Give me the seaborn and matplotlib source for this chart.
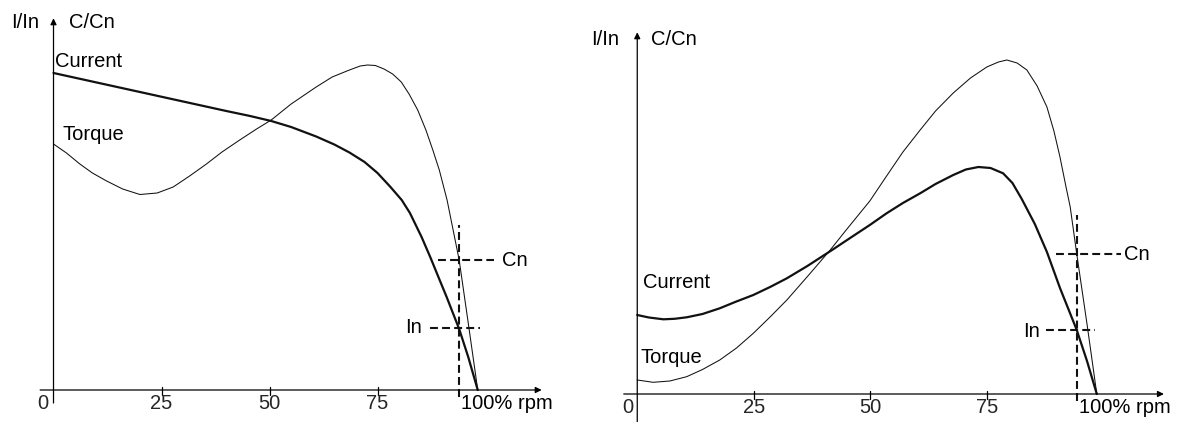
import matplotlib
matplotlib.use("Agg")
import matplotlib.pyplot as plt
import seaborn as sns

# speed in % of synchronous speed, curve values in chart units

# left panel: standard cage motor
LEFT_I_SPEED = [0, 10, 20, 30, 40, 45.5, 50.4, 55, 60.8, 65, 68.5, 72, 75, 78,
                80.6, 82.5, 85.2, 87.2, 89, 91, 93.9, 96, 98.2]
LEFT_I = [3.17, 3.075, 2.98, 2.885, 2.79, 2.74, 2.69, 2.63, 2.535, 2.455, 2.375,
          2.28, 2.17, 2.03, 1.90, 1.77, 1.53, 1.33, 1.14, 0.93, 0.61, 0.33, 0.0]
LEFT_T_SPEED = [0, 3, 6.1, 9, 12.3, 16, 20, 24, 27.7, 31.5, 35.4, 39, 43.1, 47,
                50.4, 55, 60.8, 64.5, 68.5, 71, 72.7, 74.5, 76.5, 78.5, 80.5, 82.3,
                84.3, 86.2, 87.8, 89.3, 91.1, 92.5, 93.9, 96, 98.2]
LEFT_T = [2.46, 2.37, 2.26, 2.17, 2.09, 2.01, 1.955, 1.97, 2.03, 2.14, 2.26, 2.38,
          2.50, 2.61, 2.70, 2.86, 3.03, 3.13, 3.20, 3.24, 3.25, 3.245, 3.21, 3.16,
          3.08, 2.96, 2.80, 2.60, 2.40, 2.20, 1.90, 1.60, 1.30, 0.67, 0.0]

# right panel: high resistance rotor
RIGHT_I_SPEED = [0, 2.5, 5.6, 8, 10.6, 14, 17.7, 21, 24.9, 28.5, 32.1, 36.5, 41.8,
                 46, 49.9, 53.5, 57, 60.7, 64, 67.8, 70.5, 73.2, 75.8, 78.5, 80.5,
                 82.5, 85.3, 87.9, 90.7, 92.5, 94.3, 96.5, 98.6]
RIGHT_I = [0.79, 0.765, 0.747, 0.752, 0.767, 0.80, 0.857, 0.92, 0.99, 1.07, 1.157,
           1.28, 1.44, 1.57, 1.69, 1.807, 1.91, 2.007, 2.10, 2.19, 2.245, 2.27, 2.26,
           2.207, 2.11, 1.95, 1.70, 1.42, 1.06, 0.85, 0.64, 0.33, 0.0]
RIGHT_T_SPEED = [0, 3.4, 7, 10.6, 14, 17.7, 21.3, 24.9, 28.5, 32.1, 36.8, 41.4, 45,
                 49.9, 53.5, 57, 60.7, 64, 67.8, 71.5, 75, 77.5, 79.3, 81.5, 83.6,
                 85.8, 87.9, 89.4, 90.7, 92, 92.9, 94.3, 96.5, 98.6]
RIGHT_T = [0.14, 0.117, 0.13, 0.173, 0.245, 0.34, 0.46, 0.607, 0.77, 0.94, 1.19,
           1.44, 1.65, 1.93, 2.18, 2.42, 2.64, 2.83, 3.01, 3.16, 3.27, 3.32, 3.34,
           3.31, 3.24, 3.08, 2.87, 2.63, 2.37, 2.07, 1.87, 1.40, 0.70, 0.0]

TICKS = [25, 50, 75]
TICK_LABELS = ["25", "50", "75"]

# nominal point: speed, In level, Cn level
LEFT_NOMINAL = (93.9, 0.617, 1.30)
RIGHT_NOMINAL = (94.3, 0.64, 1.40)

FS = 14.5
DASH = (0, (3.8, 2.0))


def draw_panel(ax, i_speed, i_vals, t_speed, t_vals, nominal, lay):
    ax.set_xlim(-6, 115)
    ax.set_ylim(*lay["ylim"])
    ax.axis("off")

    # axes with arrow heads
    arrow = dict(arrowstyle="-|>", lw=0.9, color="black", mutation_scale=9,
                 shrinkA=0, shrinkB=0)
    ax.annotate("", xy=(113, 0), xytext=(lay["x_start"], 0), arrowprops=arrow)
    ax.annotate("", xy=(0, lay["y_top"]), xytext=(0, lay["y_bottom"]), arrowprops=arrow)
    for t in TICKS:
        ax.plot([t, t], [0.035, -0.045], color="black", lw=0.9)

    sns.lineplot(x=i_speed, y=i_vals, ax=ax, color="#111111", lw=1.6)
    sns.lineplot(x=t_speed, y=t_vals, ax=ax, color="#111111", lw=0.75)

    n_speed, i_n, c_n = nominal
    ax.plot([n_speed, n_speed], [-0.07, lay["v_top"]], color="#111111", lw=1.5, ls=DASH)
    ax.plot(lay["cn_span"], [c_n, c_n], color="#111111", lw=1.5, ls=DASH)
    ax.plot(lay["in_span"], [i_n, i_n], color="#111111", lw=1.5, ls=DASH)

    txt = dict(fontsize=FS, va="baseline", ha="left", color="black")
    for label, key in [("I/In", "iin"), ("C/Cn", "ccn"), ("Current", "cur"),
                       ("Torque", "tor"), ("Cn", "cn"), ("In", "in"),
                       ("100% rpm", "rpm")]:
        ax.text(*lay[key], label, clip_on=False, **txt)
    ax.text(lay["zero_x"], lay["tick_y"], "0", fontsize=FS, va="baseline", ha="center")
    for t, lab in zip(TICKS, TICK_LABELS):
        ax.text(t, lay["tick_y"], lab, fontsize=FS, va="baseline", ha="center")


sns.set_theme(style="white")
plt.rcParams["font.family"] = ["Liberation Sans", "DejaVu Sans"]

fig = plt.figure(figsize=(11.84, 4.22), dpi=100)
ax_left = fig.add_axes([0.0233, 0.0, 0.4415, 1.0])
ax_right = fig.add_axes([0.5146, 0.0, 0.4763, 1.0])

left_layout = {
    "ylim": (-0.32, 3.9), "x_start": -3.1, "y_top": 3.717, "y_bottom": -0.13,
    "v_top": 1.65, "cn_span": [89.1, 102.0], "in_span": [87.1, 98.7],
    "iin": (-9.9, 3.617), "ccn": (3.6, 3.617), "cur": (0.46, 3.23),
    "tor": (2.1, 2.50), "cn": (103.7, 1.24), "in": (81.4, 0.57),
    "rpm": (94.3, -0.19), "zero_x": -2.5, "tick_y": -0.19,
}
right_layout = {
    "ylim": (-0.28, 3.94), "x_start": -2.9, "y_top": 3.617, "y_bottom": -0.28,
    "v_top": 1.79, "cn_span": [89.8, 103.9], "in_span": [87.7, 98.3],
    "iin": (-9.8, 3.49), "ccn": (2.94, 3.49), "cur": (1.15, 1.057),
    "tor": (0.73, 0.307), "cn": (104.4, 1.34), "in": (82.8, 0.573),
    "rpm": (94.75, -0.19), "zero_x": -2.06, "tick_y": -0.19,
}

draw_panel(ax_left, LEFT_I_SPEED, LEFT_I, LEFT_T_SPEED, LEFT_T, LEFT_NOMINAL, left_layout)
draw_panel(ax_right, RIGHT_I_SPEED, RIGHT_I, RIGHT_T_SPEED, RIGHT_T, RIGHT_NOMINAL, right_layout)

fig.savefig("out.png", dpi=100, facecolor="white")
